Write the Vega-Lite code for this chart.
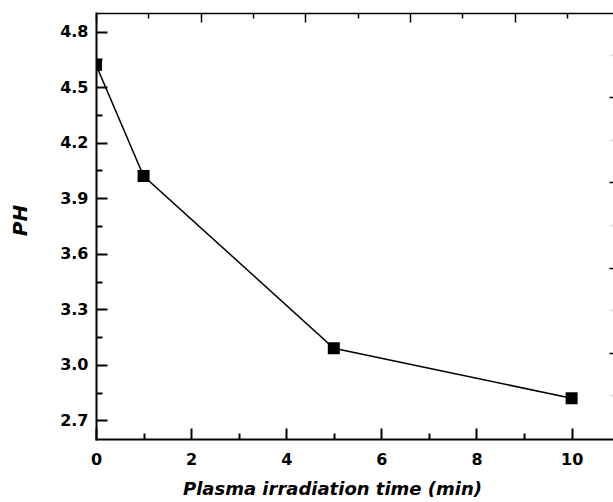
{
  "$schema": "https://vega.github.io/schema/vega-lite/v6.json",
  "width": 517,
  "height": 426,
  "autosize": {"type": "none"},
  "padding": {"left": 96, "top": 13, "right": 0, "bottom": 63},
  "background": "white",
  "config": {
    "view": {"stroke": null},
    "font": "DejaVu Sans",
    "axis": {"grid": false, "domainColor": "black", "tickColor": "black", "labelColor": "black", "titleColor": "black"}
  },
  "data": {"values": [
    {"time": 0, "ph": 4.62},
    {"time": 1, "ph": 4.02},
    {"time": 5, "ph": 3.09},
    {"time": 10, "ph": 2.82}
  ]},
  "resolve": {"axis": {"x": "independent", "y": "independent"}},
  "layer": [
    {
      "mark": {"type": "line", "color": "black", "strokeWidth": 1.5, "clip": true},
      "encoding": {
        "x": {"field": "time", "type": "quantitative", "scale": {"domain": [0, 10.87], "nice": false, "zero": false},
          "axis": {"orient": "bottom", "values": [0, 1, 2, 3, 4, 5, 6, 7, 8, 9, 10],
            "labelExpr": "datum.value % 2 === 0 ? datum.label : ''",
            "tickSize": {"condition": {"test": "datum.value % 2 === 0", "value": -11}, "value": -6},
            "tickWidth": 2, "labelPadding": 23,
            "labelFont": "DejaVu Sans", "labelFontSize": 16, "labelFontWeight": "bold", "labelFlush": false,
            "domainWidth": 2, "domainCap": "square", "zindex": 1,
            "title": "Plasma irradiation time (min)", "titleFont": "DejaVu Sans", "titleFontSize": 18, "titleFontWeight": "bold", "titleFontStyle": "italic",
            "titleX": 236, "titleY": 55, "titleAlign": "center", "titleBaseline": "alphabetic", "titleAnchor": null}},
        "y": {"field": "ph", "type": "quantitative", "scale": {"domain": [2.6, 4.9], "nice": false, "zero": false},
          "axis": {"orient": "left", "values": [2.7, 2.85, 3.0, 3.15, 3.3, 3.45, 3.6, 3.75, 3.9, 4.05, 4.2, 4.35, 4.5, 4.65, 4.8], "format": ".1f",
            "labelExpr": "round(datum.value * 100) % 30 === 0 ? datum.label : ''",
            "tickSize": {"condition": {"test": "round(datum.value * 100) % 30 === 0", "value": -11}, "value": -6},
            "tickWidth": 2, "labelPadding": 19,
            "labelFont": "DejaVu Sans", "labelFontSize": 16, "labelFontWeight": "bold", "labelFlush": false,
            "domainWidth": 2, "domainCap": "square", "zindex": 1,
            "title": "PH", "titleFont": "DejaVu Sans", "titleFontSize": 20, "titleFontWeight": "bold", "titleFontStyle": "italic",
            "titleX": -76, "titleY": 207, "titleAngle": 270, "titleAlign": "center", "titleBaseline": "middle", "titleAnchor": null}}
      }
    },
    {
      "mark": {"type": "point", "shape": "square", "filled": true, "color": "black", "opacity": 1, "size": 144, "clip": true},
      "encoding": {
        "x": {"field": "time", "type": "quantitative", "scale": {"domain": [0, 10.87], "nice": false, "zero": false}, "axis": null},
        "y": {"field": "ph", "type": "quantitative", "scale": {"domain": [2.6, 4.9], "nice": false, "zero": false}, "axis": null}
      }
    },
    {
      "mark": {"type": "point", "opacity": 0},
      "encoding": {
        "x": {"field": "time", "type": "quantitative", "scale": {"domain": [0, 10.87], "nice": false, "zero": false},
          "axis": {"orient": "top", "values": [0, 1.1, 2.2, 3.3, 4.4, 5.5, 6.6, 7.7, 8.8, 9.9],
            "tickSize": {"condition": {"test": "round(datum.value * 10) % 22 === 0", "value": -9}, "value": -5},
            "tickWidth": 1.5, "labels": false, "domain": true, "domainWidth": 1.5, "title": null, "zindex": 1}},
        "y": {"field": "ph", "type": "quantitative", "scale": {"domain": [2.6, 4.9], "nice": false, "zero": false},
          "axis": {"orient": "right", "values": [2.835, 3.065, 3.295, 3.525, 3.755, 3.985, 4.215, 4.445, 4.675],
            "tickSize": -4,
            "tickColor": {"condition": {"test": "round((datum.value - 2.605) * 1000) % 460 === 0", "value": "black"}, "value": "#dddddd"},
            "tickWidth": 1.5, "labels": false, "domain": false, "title": null, "zindex": 1}}
      }
    }
  ]
}
